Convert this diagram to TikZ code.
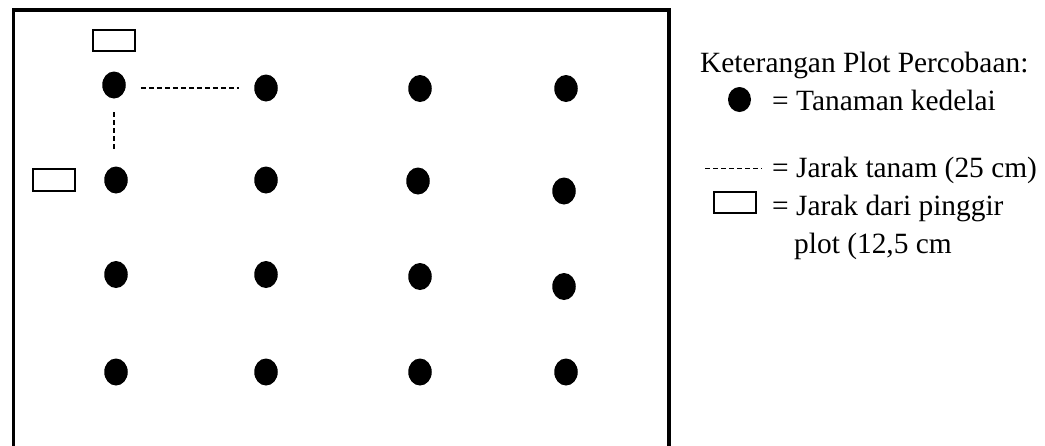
\documentclass[tikz,border=0pt]{standalone}
\usepackage{fontspec}
\setmainfont{Liberation Serif}
\usetikzlibrary{shapes.geometric}
\tikzset{
  tanaman/.style={ellipse,fill=black,inner sep=0pt,minimum width=23.5pt,minimum height=27pt},
  batas/.style={draw,line width=1.6pt,inner sep=0pt,minimum width=42.5pt,minimum height=21.5pt},
  jarak/.style={line width=1.2pt,dash pattern=on 5pt off 3pt},
  ket/.style={anchor=base west,inner sep=0pt,font=\fontsize{29.4}{35}\selectfont}
}
\begin{document}
\begin{tikzpicture}[x=1pt,y=-1pt,line cap=butt,line join=miter]
  \useasboundingbox (0,0) rectangle (1045,445);
  % plot percobaan
  \draw[line width=3.6pt] (13.5,460) -- (13.5,10) -- (669,10) -- (669,460);
  \node[tanaman] (p11) at (114,85) {};
  \node[tanaman] (p12) at (266,88) {};
  \node[tanaman] (p13) at (420,88.5) {};
  \node[tanaman] (p14) at (566,88.5) {};
  \node[tanaman] (p21) at (116,180) {};
  \node[tanaman] (p22) at (266,180) {};
  \node[tanaman] (p23) at (418,181) {};
  \node[tanaman] (p24) at (564,191) {};
  \node[tanaman] (p31) at (116,274.5) {};
  \node[tanaman] (p32) at (266,274.5) {};
  \node[tanaman] (p33) at (420,276.5) {};
  \node[tanaman] (p34) at (564,286.5) {};
  \node[tanaman] (p41) at (116,372) {};
  \node[tanaman] (p42) at (266,372) {};
  \node[tanaman] (p43) at (420,372) {};
  \node[tanaman] (p44) at (566,372) {};
  \node[batas] (b1) at (114,40.5) {};
  \node[batas] (b2) at (54,180) {};
  \draw[jarak,shorten <=15pt,shorten >=15pt] (p11.east |- p12.west) -- (p12.west);
  \draw[jarak,shorten <=13.5pt,shorten >=17.5pt] (p11.south) -- (p11.south |- p21.north);
  % keterangan
  \node[ket] (judul) at (700,72) {Keterangan Plot Percobaan:};
  \node[tanaman,minimum width=23pt,minimum height=25pt] (kt) at (739.5,99.5) {};
  \node[ket] (k1) at (772,110) {= Tanaman kedelai};
  \coordinate (ka) at (705,168);
  \coordinate (kb) at (762,168);
  \draw[jarak,line width=1pt] (ka) -- (kb);
  \node[ket] (k2) at (772,177) {= Jarak tanam (25 cm)};
  \node[batas,line width=2pt] (kb2) at (735,202.5) {};
  \node[ket] (k3) at (772,215) {= Jarak dari pinggir};
  \node[ket] (k4) at (794,253) {plot (12,5 cm};
\end{tikzpicture}
\end{document}
